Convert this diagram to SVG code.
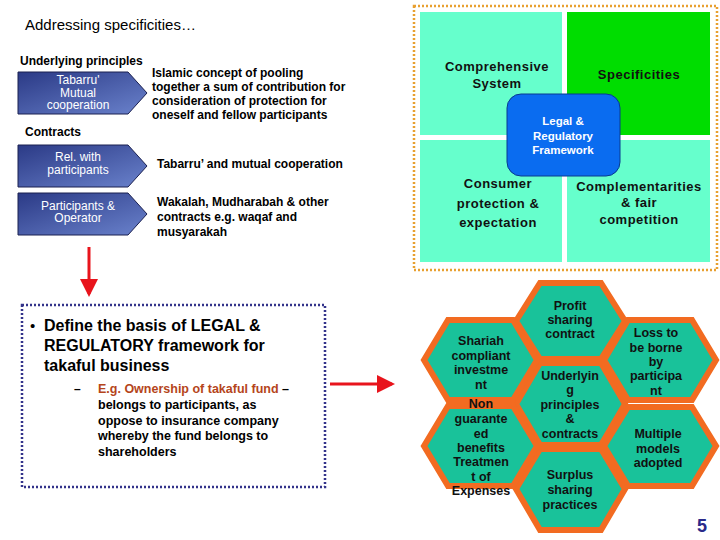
<svg xmlns="http://www.w3.org/2000/svg" width="720" height="540" viewBox="0 0 720 540">
<defs>
<linearGradient id="chev" x1="0" y1="0" x2="1" y2="1"><stop offset="0" stop-color="#2b3a86"/><stop offset="1" stop-color="#6a82cc"/></linearGradient>
<marker id="ah" markerWidth="6" markerHeight="6" refX="5" refY="3" orient="auto" markerUnits="strokeWidth"><path d="M0,0 L6,3 L0,6 z" fill="#e8141c"/></marker>
</defs>
<style>
text{font-family:"Liberation Sans",Arial,sans-serif}
.b{font-weight:bold;font-size:12px;fill:#000}
.cw{fill:#fff;font-size:12px}
.chev{fill:url(#chev);stroke:#1a2050;stroke-width:1}
.q{fill:#66ffcc}
.qt{font-weight:bold;font-size:13px;fill:#111;letter-spacing:0.5px}
.hex{fill:#19c29a;stroke:#f26b21;stroke-width:6;stroke-linejoin:miter}
.ht{font-weight:bold;font-size:12.5px;fill:#111;text-anchor:middle}
.red{stroke:#e8141c;stroke-width:3;fill:none}
</style>
<rect width="720" height="540" fill="#fff"/>
<text x="25" y="30" font-size="15" fill="#000">Addressing specificities…</text>
<text x="20" y="65" class="b" font-size="13">Underlying principles</text>
<text x="25" y="136" class="b" font-size="13">Contracts</text>

<g id="n-tabarru">
<path class="chev" d="M18,72 H128 L147,93 L128,114 H18 Z"/>
<text class="cw" text-anchor="middle" x="78" y="84">Tabarru'</text>
<text class="cw" text-anchor="middle" x="78" y="96.5">Mutual</text>
<text class="cw" text-anchor="middle" x="78" y="109">cooperation</text>
</g>
<g id="t-islamic" class="b">
<text x="152" y="77">Islamic concept of pooling</text>
<text x="152" y="91">together a sum of contribution for</text>
<text x="152" y="105">consideration of protection for</text>
<text x="152" y="119">oneself and fellow participants</text>
</g>
<g id="n-rel">
<path class="chev" d="M18,145 H128 L147,166 L128,187 H18 Z"/>
<text class="cw" text-anchor="middle" x="78" y="161">Rel. with</text>
<text class="cw" text-anchor="middle" x="78" y="174">participants</text>
</g>
<text x="157" y="168" class="b">Tabarru’ and mutual cooperation</text>
<g id="n-part">
<path class="chev" d="M18,193 H128 L147,214 L128,235 H18 Z"/>
<text class="cw" text-anchor="middle" x="78" y="210">Participants &amp;</text>
<text class="cw" text-anchor="middle" x="78" y="222">Operator</text>
</g>
<g class="b">
<text x="157" y="206">Wakalah, Mudharabah &amp; other</text>
<text x="157" y="221">contracts e.g. waqaf and</text>
<text x="157" y="236">musyarakah</text>
</g>

<g id="n-define">
<rect x="22" y="305" width="303" height="182" fill="none" stroke="#33338a" stroke-width="2.5" stroke-dasharray="2,2"/>
<text x="30" y="331" font-size="15" fill="#000">•</text>
<g font-weight="bold" font-size="16" fill="#000">
<text x="44" y="331">Define the basis of LEGAL &amp;</text>
<text x="44" y="351">REGULATORY framework for</text>
<text x="44" y="371">takaful business</text>
</g>
<text x="74" y="393" class="b" font-size="12.5">–</text>
<g font-weight="bold" font-size="12.5" fill="#000">
<text x="98" y="393"><tspan fill="#b5451b">E.g. Ownership of takaful fund</tspan> –</text>
<text x="98" y="409">belongs to participants, as</text>
<text x="98" y="425">oppose to insurance company</text>
<text x="98" y="440">whereby the fund belongs to</text>
<text x="98" y="456">shareholders</text>
</g>
</g>

<g id="n-framework">
<rect x="414" y="6" width="303" height="264" fill="none" stroke="#e8a030" stroke-width="2.5" stroke-dasharray="2,2"/>
<rect class="q" x="420" y="12" width="142" height="123"/>
<rect x="567" y="12" width="143" height="123" fill="#00dd00"/>
<rect class="q" x="420" y="140" width="142" height="122"/>
<rect class="q" x="567" y="140" width="143" height="122"/>
<text class="qt" text-anchor="middle" x="497" y="71">Comprehensive</text>
<text class="qt" text-anchor="middle" x="497" y="88">System</text>
<text class="qt" text-anchor="middle" x="639" y="79">Specificities</text>
<text class="qt" text-anchor="middle" x="498" y="188">Consumer</text>
<text class="qt" text-anchor="middle" x="498" y="208">protection &amp;</text>
<text class="qt" text-anchor="middle" x="498" y="227">expectation</text>
<text class="qt" text-anchor="middle" x="639" y="191">Complementarities</text>
<text class="qt" text-anchor="middle" x="639" y="207">&amp; fair</text>
<text class="qt" text-anchor="middle" x="639" y="224">competition</text>
<rect x="507" y="94" width="113" height="82" rx="14" fill="#0a6cf0" stroke="#083a90" stroke-width="1"/>
<text text-anchor="middle" x="563" y="125" font-size="11.5" font-weight="bold" fill="#fff">Legal &amp;</text>
<text text-anchor="middle" x="563" y="140" font-size="11.5" font-weight="bold" fill="#fff">Regulatory</text>
<text text-anchor="middle" x="563" y="154" font-size="11.5" font-weight="bold" fill="#fff">Framework</text>
</g>

<g id="hexes">
<g id="h-profit"><polygon class="hex" points="516,321 540,283 601,283 625,321 601,359 540,359"/>
<text class="ht" x="570" y="310">Profit</text><text class="ht" x="570" y="324">sharing</text><text class="ht" x="570" y="338">contract</text></g>
<g id="h-center"><polygon class="hex" points="516,404 540,363 601,363 625,404 601,445 540,445"/>
<text class="ht" x="570" y="380">Underlyin</text><text class="ht" x="570" y="394">g</text><text class="ht" x="570" y="409">principles</text><text class="ht" x="570" y="423">&amp;</text><text class="ht" x="570" y="438">contracts</text></g>
<g id="h-surplus"><polygon class="hex" points="516,489 540,449 601,449 625,489 601,530 540,530"/>
<text class="ht" x="570" y="479">Surplus</text><text class="ht" x="570" y="494">sharing</text><text class="ht" x="570" y="509">practices</text></g>
<g id="h-shariah"><polygon class="hex" points="424,360 448,320 513,320 537,360 513,400 448,400"/>
<text class="ht" x="481" y="345">Shariah</text><text class="ht" x="481" y="360">compliant</text><text class="ht" x="481" y="374">investme</text><text class="ht" x="481" y="389">nt</text></g>
<g id="h-non"><polygon class="hex" points="424,446 448,406 513,406 537,446 513,486 448,486"/>
<text class="ht" x="481" y="408">Non</text><text class="ht" x="481" y="423">guarante</text><text class="ht" x="481" y="438">ed</text><text class="ht" x="481" y="452">benefits</text><text class="ht" x="481" y="466">Treatmen</text><text class="ht" x="481" y="481">t of</text><text class="ht" x="481" y="495">Expenses</text></g>
<g id="h-loss"><polygon class="hex" points="604,360 628,320 692,320 716,360 692,400 628,400"/>
<text class="ht" x="656" y="337">Loss to</text><text class="ht" x="656" y="352">be borne</text><text class="ht" x="656" y="366">by</text><text class="ht" x="656" y="380">participa</text><text class="ht" x="656" y="395">nt</text></g>
<g id="h-multiple"><polygon class="hex" points="604,446 628,407 692,407 716,446 692,486 628,486"/>
<text class="ht" x="658" y="438">Multiple</text><text class="ht" x="658" y="453">models</text><text class="ht" x="658" y="467">adopted</text></g>
</g>

<g id="connectors">
<line class="red" x1="89" y1="247" x2="89" y2="294" marker-end="url(#ah)"/>
<line class="red" x1="330" y1="384" x2="392" y2="384" marker-end="url(#ah)"/>
</g>
<text x="697" y="532" font-size="18" font-weight="bold" fill="#2a2a8a">5</text>
</svg>
